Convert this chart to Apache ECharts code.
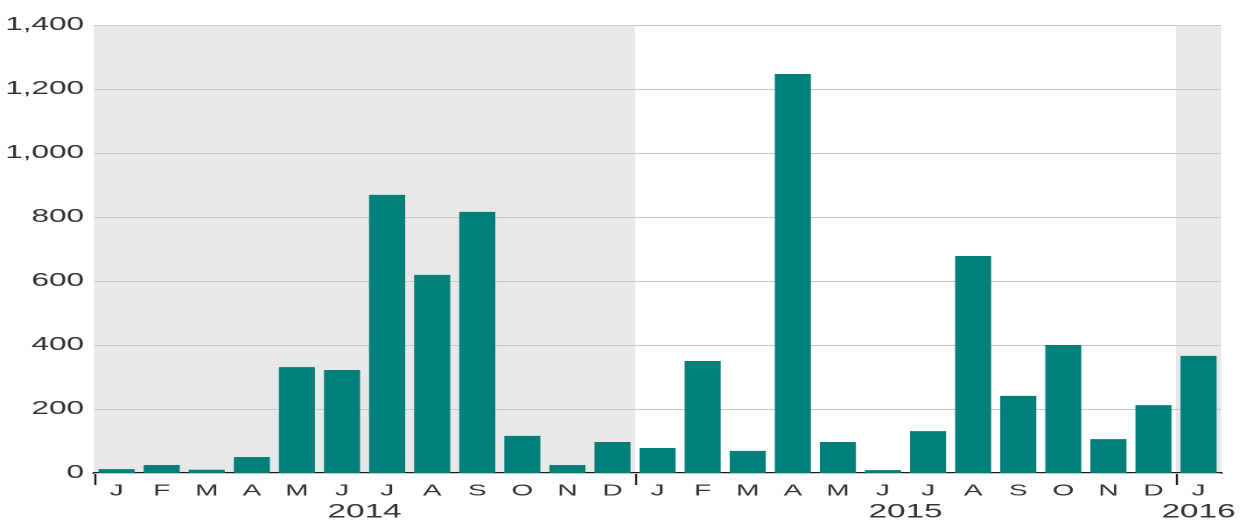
<!DOCTYPE html>
<html><head><meta charset="utf-8">
<script src="https://cdn.jsdelivr.net/npm/echarts@6/dist/echarts.min.js"></script>
<style>
html,body{margin:0;padding:0;background:#fff;overflow:hidden;width:1240px;height:524px}
#c{width:708.571px;height:524px;transform:scaleX(1.75);transform-origin:0 0}
</style>
</head><body><div id="c"></div>
<script>
const months = ['J','F','M','A','M','J','J','A','S','O','N','D','J','F','M','A','M','J','J','A','S','O','N','D','J'];
const values = [12,25,10,50,331,322,869,619,816,116,25,97,78,350,69,1247,97,9,131,678,241,400,106,212,366];
const years = ['2014','2015','2016'];
const yearStart = [0,12,24];
const yearEnd = [12,24,25];
const shadedYears = [0,2];

const S = 1.75; // horizontal stretch of the reference picture
const yearCenters = years.map((y,i)=>(yearStart[i]+yearEnd[i])/2);
const chart = echarts.init(document.getElementById('c'), null, {devicePixelRatio:2});
const font = 'Liberation Sans, Arial, Helvetica, sans-serif';
chart.setOption({
  animation:false,
  grid:{left:93/S,right:18/S,top:25,bottom:51},
  xAxis:[{
    type:'category', data:months,
    axisLine:{lineStyle:{color:'#1a1a1a',width:2}},
    axisTick:{show:false},
    axisLabel:{color:'#333',fontSize:16,fontFamily:font,margin:10,interval:0},
  },{
    type:'value', min:0, max:25, position:'bottom',
    axisLine:{show:false}, splitLine:{show:false},
    axisTick:{show:true,customValues:yearStart,length:12,lineStyle:{color:'#1a1a1a',width:1.2}},
    axisLabel:{customValues:yearCenters,color:'#333',fontSize:19,fontFamily:font,margin:30,
      formatter:(v)=>{const i=yearCenters.indexOf(v);return i>=0?years[i]:'';}}
  }],
  yAxis:{
    type:'value', min:0, max:1400, interval:200, z:1.5,
    axisLine:{show:false}, axisTick:{show:false},
    splitLine:{lineStyle:{color:'#c8c8c8',width:1}},
    axisLabel:{color:'#333',fontSize:18,fontFamily:font,margin:10/S,
      formatter:(v)=>v.toLocaleString('en-US')}
  },
  series:[{
    type:'line', xAxisIndex:1, data:[], z:0,
    markArea:{silent:true, z:0, itemStyle:{color:'#e8e8e8'},
      data: shadedYears.map(i=>[{xAxis:yearStart[i]},{xAxis:yearEnd[i]}])}
  },{
    type:'bar', data:values, barCategoryGap:'20%', z:3,
    itemStyle:{color:'#007f7b'}
  }]
});
</script></body></html>
